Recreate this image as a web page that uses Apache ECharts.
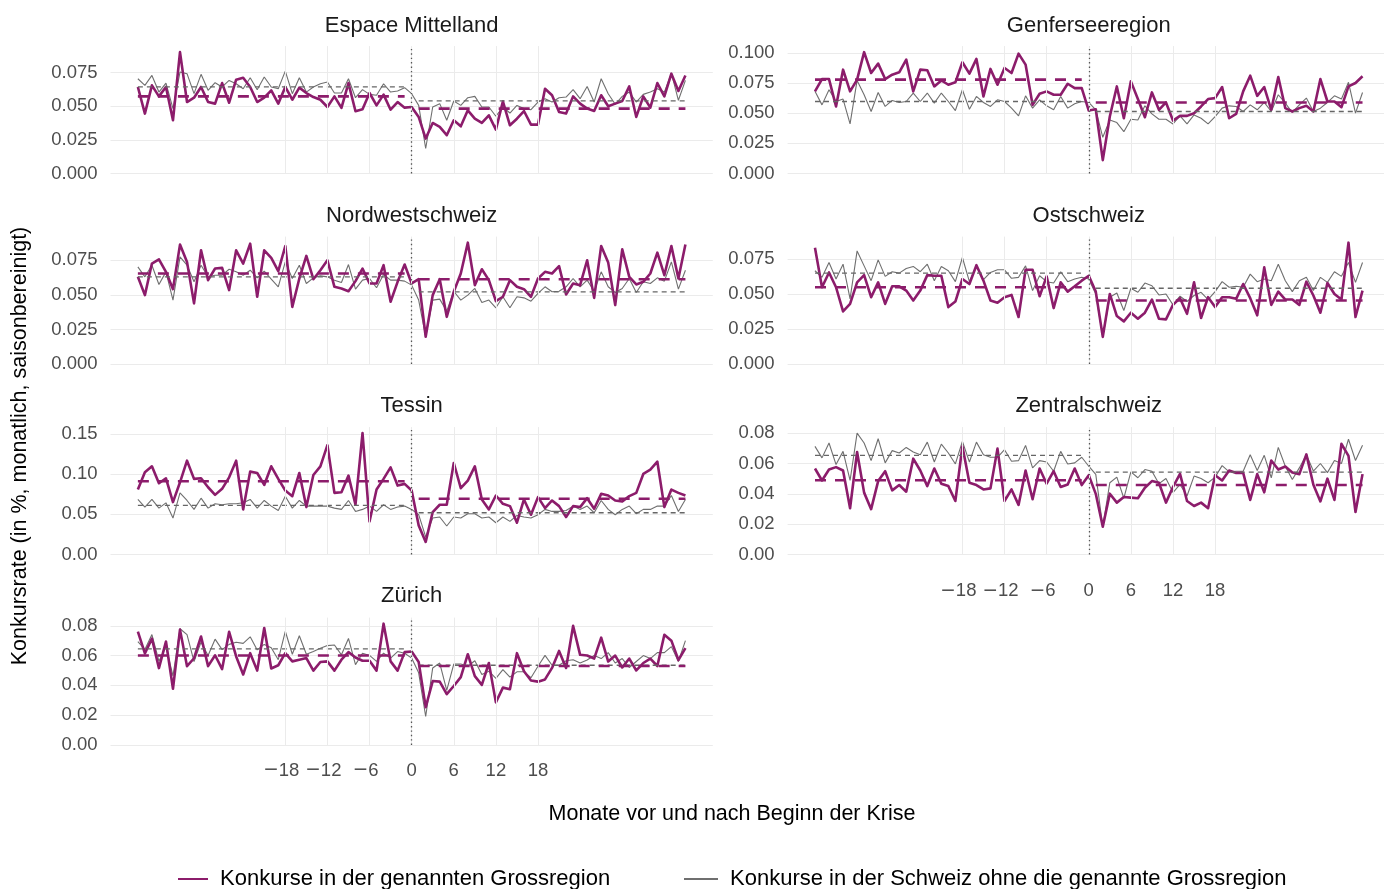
<!DOCTYPE html>
<html>
<head>
<meta charset="utf-8">
<title>Konkursrate nach Grossregion</title>
<script src="https://cdn.jsdelivr.net/npm/echarts@6/dist/echarts.min.js"></script>
<style>
  html, body { margin: 0; padding: 0; background: #ffffff; }
  #chart { width: 1384px; height: 889px; }
</style>
</head>
<body>
<div id="chart"></div>
<script>
// Months relative to the start of the crisis
const firstMonth = -39;
const lastMonth = 39;
const xTickValues = [-18, -12, -6, 0, 6, 12, 18];

const regionNames = ['Espace Mittelland', 'Genferseeregion', 'Nordwestschweiz', 'Ostschweiz', 'Tessin', 'Zentralschweiz', 'Zürich'];

// Monthly bankruptcy rate (%), seasonally adjusted: region itself
const rateEspaceMittelland = [0.0644,0.0446,0.0656,0.0574,0.0644,0.0396,0.0903,0.0532,0.0564,0.0644,0.0532,0.0520,0.0673,0.0527,0.0698,0.0713,0.0644,0.0532,0.0564,0.0619,0.0520,0.0644,0.0549,0.0639,0.0599,0.0569,0.0549,0.0495,0.0574,0.0488,0.0673,0.0463,0.0478,0.0599,0.0507,0.0587,0.0475,0.0532,0.0490,
  0.0495,0.0421,0.0260,0.0376,0.0347,0.0285,0.0396,0.0351,0.0470,0.0408,0.0376,0.0433,0.0327,0.0537,0.0359,0.0408,0.0465,0.0364,0.0364,0.0631,0.0582,0.0458,0.0446,0.0574,0.0520,0.0483,0.0465,0.0582,0.0500,0.0520,0.0540,0.0648,0.0421,0.0574,0.0490,0.0673,0.0574,0.0743,0.0614,0.0730];
const rateGenferseeregion = [0.0681,0.0783,0.0783,0.0556,0.0861,0.0681,0.0778,0.1006,0.0833,0.0911,0.0783,0.0819,0.0839,0.0944,0.0681,0.0861,0.0856,0.0722,0.0772,0.0736,0.0756,0.0922,0.0828,0.0950,0.0639,0.0867,0.0736,0.0875,0.0833,0.0994,0.0903,0.0569,0.0661,0.0681,
  0.0653,0.0653,0.0744,0.0708,0.0708,0.0522,0.0533,0.0111,0.0472,0.0722,0.0458,0.0764,0.0617,0.0467,0.0672,0.0528,0.0589,0.0439,0.0478,0.0478,0.0500,0.0556,0.0617,0.0625,0.0717,0.0458,0.0494,0.0681,0.0811,0.0644,0.0717,0.0528,0.0800,0.0542,0.0514,0.0542,0.0561,0.0514,0.0783,0.0597,0.0597,0.0550,0.0722,0.0750,0.0806];
const rateNordwestschweiz = [0.0630,0.0498,0.0726,0.0757,0.0666,0.0541,0.0863,0.0738,0.0438,0.0822,0.0606,0.0690,0.0695,0.0534,0.0822,0.0726,0.0870,0.0486,0.0822,0.0767,0.0671,0.0853,0.0413,0.0618,0.0781,0.0613,0.0678,0.0750,0.0558,0.0546,0.0526,0.0599,0.0690,0.0582,0.0582,0.0714,0.0450,0.0594,0.0719,
  0.0582,0.0613,0.0197,0.0498,0.0613,0.0341,0.0522,0.0654,0.0877,0.0570,0.0685,0.0606,0.0454,0.0486,0.0606,0.0558,0.0541,0.0486,0.0618,0.0666,0.0654,0.0707,0.0502,0.0582,0.0570,0.0750,0.0478,0.0853,0.0733,0.0426,0.0829,0.0630,0.0575,0.0594,0.0654,0.0805,0.0642,0.0853,0.0618,0.0863];
const rateOstschweiz = [0.0832,0.0549,0.0655,0.0549,0.0376,0.0430,0.0584,0.0636,0.0478,0.0584,0.0430,0.0556,0.0556,0.0525,0.0454,0.0525,0.0636,0.0631,0.0631,0.0407,0.0447,0.0608,0.0572,0.0707,0.0596,0.0454,0.0438,0.0478,0.0494,0.0336,0.0674,0.0674,0.0485,0.0627,0.0400,0.0584,0.0518,0.0556,0.0596,
  0.0631,0.0518,0.0194,0.0501,0.0343,0.0305,0.0367,0.0324,0.0367,0.0461,0.0324,0.0319,0.0423,0.0471,0.0359,0.0584,0.0329,0.0478,0.0407,0.0478,0.0478,0.0466,0.0572,0.0471,0.0348,0.0691,0.0423,0.0518,0.0461,0.0461,0.0423,0.0589,0.0490,0.0367,0.0579,0.0501,0.0461,0.0868,0.0336,0.0525];
const rateTessin = [0.0809,0.1024,0.1099,0.0888,0.0950,0.0653,0.0900,0.1169,0.0942,0.0950,0.0838,0.0743,0.0818,0.0962,0.1169,0.0562,0.1033,0.1016,0.0867,0.1099,0.0942,0.0797,0.0727,0.1016,0.0591,0.0991,0.1099,0.1363,0.0768,0.0776,0.0983,0.0620,0.1512,0.0413,0.0809,0.0942,0.1086,0.0859,0.0880,
  0.0797,0.0363,0.0157,0.0529,0.0620,0.0620,0.1140,0.0826,0.0921,0.1099,0.0686,0.0562,0.0735,0.0632,0.0603,0.0396,0.0686,0.0496,0.0715,0.0578,0.0673,0.0603,0.0467,0.0603,0.0591,0.0702,0.0570,0.0756,0.0735,0.0673,0.0661,0.0727,0.0768,0.1004,0.1057,0.1156,0.0591,0.0809,0.0768,0.0735];
const rateZentralschweiz = [0.0567,0.0488,0.0560,0.0576,0.0554,0.0305,0.0676,0.0408,0.0299,0.0484,0.0549,0.0423,0.0458,0.0414,0.0632,0.0554,0.0451,0.0567,0.0467,0.0451,0.0353,0.0713,0.0473,0.0458,0.0429,0.0436,0.0698,0.0353,0.0429,0.0327,0.0554,0.0364,0.0567,0.0467,0.0549,0.0445,0.0462,0.0567,0.0458,
  0.0523,0.0400,0.0183,0.0401,0.0342,0.0379,0.0375,0.0371,0.0440,0.0484,0.0473,0.0342,0.0445,0.0532,0.0353,0.0320,0.0342,0.0305,0.0523,0.0488,0.0554,0.0538,0.0538,0.0360,0.0530,0.0410,0.0620,0.0560,0.0580,0.0540,0.0530,0.0660,0.0460,0.0350,0.0500,0.0360,0.0730,0.0650,0.0280,0.0530];
const rateZuerich = [0.0760,0.0615,0.0714,0.0516,0.0694,0.0377,0.0774,0.0529,0.0582,0.0728,0.0529,0.0602,0.0509,
  0.0759,0.0594,0.0473,0.0616,0.0499,0.0785,0.0513,0.0535,0.0616,0.0561,0.0572,0.0583,0.0499,0.0557,0.0561,0.0499,0.0572,0.0623,0.0587,0.0565,0.0565,0.0499,0.0814,0.0561,0.0499,0.0623,
  0.0627,0.0557,0.0253,0.0429,0.0425,0.0341,0.0396,0.0455,0.0609,0.0462,0.0403,0.0550,0.0286,0.0385,0.0374,0.0616,0.0495,0.0433,0.0425,0.0440,0.0517,0.0631,0.0517,0.0799,0.0605,
  0.0600,0.0580,0.0720,0.0560,0.0600,0.0520,0.0580,0.0500,0.0550,0.0580,0.0530,0.0740,0.0700,0.0570,0.0650];

// Rest of Switzerland without the region
const restEspaceMittelland = [0.0705,0.0656,0.0730,0.0606,0.0673,0.0483,0.0755,0.0743,0.0594,0.0738,0.0619,0.0676,0.0644,0.0693,0.0668,0.0631,0.0713,0.0624,0.0718,0.0644,0.0631,0.0762,0.0594,0.0713,0.0606,0.0644,0.0668,0.0681,0.0599,0.0599,0.0705,0.0564,0.0624,0.0589,0.0582,0.0668,0.0606,0.0614,0.0639,
  0.0594,0.0507,0.0186,0.0495,0.0520,0.0396,0.0540,0.0507,0.0564,0.0574,0.0495,0.0495,0.0426,0.0495,0.0450,0.0507,0.0483,0.0475,0.0532,0.0557,0.0532,0.0564,0.0569,0.0624,0.0557,0.0648,0.0532,0.0705,0.0594,0.0515,0.0574,0.0606,0.0532,0.0589,0.0606,0.0631,0.0606,0.0747,0.0545,0.0693];
const restGenferseeregion = [0.0681,0.0569,0.0694,0.0597,0.0617,0.0411,0.0772,0.0653,0.0514,0.0672,0.0556,0.0606,0.0589,0.0597,0.0667,0.0597,0.0667,0.0583,0.0667,0.0597,0.0522,0.0694,0.0533,0.0639,0.0589,0.0556,0.0611,0.0597,0.0542,0.0478,0.0644,0.0542,0.0611,0.0561,
  0.0528,0.0639,0.0542,0.0578,0.0597,0.0589,0.0528,0.0300,0.0444,0.0422,0.0347,0.0450,0.0444,0.0561,0.0494,0.0450,0.0450,0.0411,0.0478,0.0411,0.0486,0.0458,0.0411,0.0472,0.0542,0.0561,0.0556,0.0514,0.0569,0.0528,0.0589,0.0514,0.0653,0.0583,0.0506,0.0569,0.0625,0.0514,0.0542,0.0589,0.0644,0.0617,0.0756,0.0500,0.0672];
const restNordwestschweiz = [0.0702,0.0630,0.0714,0.0575,0.0666,0.0462,0.0774,0.0714,0.0594,0.0714,0.0630,0.0642,0.0642,0.0685,0.0666,0.0642,0.0678,0.0623,0.0671,0.0613,0.0558,0.0738,0.0618,0.0714,0.0582,0.0623,0.0637,0.0630,0.0606,0.0589,0.0719,0.0541,0.0606,0.0618,0.0551,0.0647,0.0606,0.0606,0.0599,
  0.0570,0.0462,0.0197,0.0462,0.0469,0.0382,0.0526,0.0462,0.0498,0.0546,0.0445,0.0462,0.0406,0.0486,0.0406,0.0486,0.0478,0.0454,0.0510,0.0558,0.0522,0.0526,0.0558,0.0618,0.0558,0.0606,0.0526,0.0666,0.0558,0.0517,0.0546,0.0618,0.0517,0.0594,0.0582,0.0623,0.0599,0.0738,0.0541,0.0678];
const restOstschweiz = [0.0667,0.0620,0.0726,0.0608,0.0714,0.0466,0.0809,0.0702,0.0596,0.0745,0.0627,0.0660,0.0650,0.0683,0.0698,0.0660,0.0714,0.0596,0.0698,0.0667,0.0589,0.0762,0.0589,0.0702,0.0603,0.0655,0.0674,0.0674,0.0613,0.0620,0.0702,0.0525,0.0631,0.0589,0.0579,0.0660,0.0589,0.0608,0.0620,
  0.0608,0.0501,0.0194,0.0478,0.0508,0.0383,0.0542,0.0513,0.0579,0.0560,0.0494,0.0501,0.0423,0.0485,0.0447,0.0490,0.0513,0.0461,0.0518,0.0589,0.0549,0.0556,0.0549,0.0643,0.0589,0.0608,0.0596,0.0714,0.0596,0.0518,0.0596,0.0620,0.0525,0.0620,0.0584,0.0660,0.0627,0.0726,0.0584,0.0726];
const restTessin = [0.0686,0.0591,0.0686,0.0578,0.0644,0.0454,0.0768,0.0673,0.0562,0.0702,0.0578,0.0632,0.0620,0.0632,0.0632,0.0644,0.0686,0.0578,0.0673,0.0603,0.0549,0.0727,0.0578,0.0673,0.0603,0.0603,0.0603,0.0603,0.0578,0.0562,0.0673,0.0537,0.0562,0.0603,0.0537,0.0620,0.0562,0.0591,0.0603,
  0.0562,0.0496,0.0220,0.0454,0.0467,0.0355,0.0467,0.0454,0.0508,0.0508,0.0454,0.0467,0.0396,0.0467,0.0413,0.0487,0.0467,0.0454,0.0496,0.0562,0.0537,0.0537,0.0549,0.0603,0.0562,0.0603,0.0520,0.0673,0.0562,0.0496,0.0562,0.0603,0.0508,0.0562,0.0562,0.0603,0.0603,0.0735,0.0537,0.0686];
const restZentralschweiz = [0.0713,0.0637,0.0735,0.0593,0.0680,0.0488,0.0800,0.0735,0.0619,0.0763,0.0604,0.0685,0.0669,0.0706,0.0676,0.0658,0.0741,0.0610,0.0728,0.0669,0.0597,0.0746,0.0610,0.0741,0.0658,0.0641,0.0641,0.0691,0.0615,0.0619,0.0719,0.0571,0.0619,0.0610,0.0549,0.0680,0.0597,0.0604,0.0641,
  0.0582,0.0528,0.0183,0.0473,0.0510,0.0371,0.0545,0.0506,0.0560,0.0549,0.0467,0.0501,0.0408,0.0462,0.0386,0.0517,0.0501,0.0473,0.0510,0.0586,0.0545,0.0549,0.0549,0.0658,0.0554,0.0654,0.0506,0.0706,0.0582,0.0495,0.0571,0.0658,0.0550,0.0600,0.0540,0.0620,0.0600,0.0760,0.0620,0.0720];
const restZuerich = [0.0694,0.0641,0.0741,0.0562,0.0660,0.0463,0.0780,0.0740,0.0560,0.0690,0.0600,0.0710,0.0640,
  0.0675,0.0689,0.0682,0.0726,0.0638,0.0675,0.0653,0.0572,0.0763,0.0609,0.0733,0.0609,0.0627,0.0649,0.0667,0.0671,0.0605,0.0715,0.0539,0.0616,0.0601,0.0561,0.0616,0.0583,0.0627,0.0616,
  0.0583,0.0484,0.0191,0.0517,0.0550,0.0367,0.0543,0.0543,0.0528,0.0565,0.0473,0.0495,0.0447,0.0506,0.0455,0.0491,0.0491,0.0451,0.0528,0.0601,0.0535,0.0535,0.0565,0.0572,0.0550,
  0.0570,0.0600,0.0580,0.0620,0.0550,0.0580,0.0520,0.0560,0.0600,0.0580,0.0620,0.0620,0.0660,0.0560,0.0700];

// Average rate before and after the start of the crisis (same order as regionNames)
const meanRegionBefore = [0.0574, 0.0778, 0.0654, 0.0549, 0.0913, 0.0490, 0.0600];
const meanRegionAfter  = [0.0483, 0.0589, 0.0613, 0.0454, 0.0694, 0.0458, 0.0530];
const meanRestBefore   = [0.0644, 0.0597, 0.0630, 0.0650, 0.0611, 0.0654, 0.0645];
const meanRestAfter    = [0.0540, 0.0514, 0.0522, 0.0542, 0.0520, 0.0543, 0.0535];

// Y tick step and label decimals per panel
const yTickStep = [0.025, 0.025, 0.025, 0.025, 0.05, 0.02, 0.02];
const yTickDecimals = [3, 3, 3, 3, 2, 2, 2];

const regionSeries = [rateEspaceMittelland, rateGenferseeregion, rateNordwestschweiz, rateOstschweiz, rateTessin, rateZentralschweiz, rateZuerich];
const restSeries = [restEspaceMittelland, restGenferseeregion, restNordwestschweiz, restOstschweiz, restTessin, restZentralschweiz, restZuerich];

const nameRegion = 'Konkurse in der genannten Grossregion';
const nameRest = 'Konkurse in der Schweiz ohne die genannte Grossregion';

// ---- layout of the 2-column facet grid ----
const purple = '#8c1c6b';
const greyLine = '#6f6f6f';
const gridColor = '#ebebeb';
const tickColor = '#4d4d4d';
const fontFamily = '"Liberation Sans", Arial, Helvetica, sans-serif';
const colLeft = [110.5, 787.6];
const panelWidth = 602.3;
const rowZeroY = [173.5, 364, 554.5, 745];
const panelHeight = 127.4;
const stripY = [26, 216, 406, 596];
const bottomPanel = { 5: 27, 6: 16 }; // panel index -> x label margin

const months = [];
for (let m = firstMonth; m <= lastMonth; m++) months.push(m);
const xPad = 0.05 * (lastMonth - firstMonth);

const grids = [], xAxes = [], yAxes = [], series = [], graphics = [];

regionNames.forEach((name, i) => {
  const col = i % 2, row = Math.floor(i / 2);
  const region = regionSeries[i], rest = restSeries[i];
  const yMax = 1.05 * Math.max(...region, ...rest);
  const top = rowZeroY[row] - panelHeight;
  grids.push({ left: colLeft[col], top: top, width: panelWidth, height: panelHeight,
    containLabel: false, outerBoundsMode: 'none' });

  const showX = bottomPanel[i] !== undefined;
  xAxes.push({
    type: 'value', gridIndex: i, min: firstMonth - xPad, max: lastMonth + xPad,
    axisLine: { show: false }, axisTick: { show: false }, splitLine: { show: false },
    axisLabel: {
      show: showX, customValues: xTickValues, margin: showX ? bottomPanel[i] : 8,
      fontSize: 18.5, color: tickColor, fontFamily: fontFamily,
      formatter: v => (v < 0 ? '{m|\u2212}{n|' + Math.abs(v) + '}' : String(v)),
      rich: {
        m: { fontFamily: '"DejaVu Sans", sans-serif', fontSize: 18.5, color: tickColor },
        n: { fontFamily: fontFamily, fontSize: 18.5, color: tickColor, padding: [0, 8, 0, 0] }
      }
    }
  });
  const dec = yTickDecimals[i];
  yAxes.push({
    type: 'value', gridIndex: i, min: 0, max: yMax, interval: yTickStep[i],
    axisLine: { show: false }, axisTick: { show: false },
    axisLabel: { margin: 13, fontSize: 18.5, color: tickColor, fontFamily: fontFamily, showMaxLabel: false,
      formatter: v => v.toFixed(dec) },
    splitLine: { show: true, showMaxLine: false, lineStyle: { color: gridColor, width: 1 } }
  });

  // vertical grid lines at the labelled months
  series.push({
    type: 'line', name: 'grid' + i, xAxisIndex: i, yAxisIndex: i, data: [], silent: true, z: 1,
    markLine: { silent: true, symbol: ['none', 'none'], label: { show: false }, animation: false,
      lineStyle: { color: gridColor, width: 1, type: 'solid' },
      emphasis: { disabled: true },
      data: xTickValues.map(v => ({ xAxis: v })) }
  });
  series.push({
    type: 'line', name: nameRest, xAxisIndex: i, yAxisIndex: i, z: 2,
    data: months.map((m, k) => [m, rest[k]]),
    symbol: 'none', lineStyle: { color: greyLine, width: 1.1 }, itemStyle: { color: greyLine },
    emphasis: { disabled: true }, animation: false
  });
  series.push({
    type: 'line', name: nameRegion, xAxisIndex: i, yAxisIndex: i, z: 3,
    data: months.map((m, k) => [m, region[k]]),
    symbol: 'none', lineStyle: { color: purple, width: 2.6, join: 'round' }, itemStyle: { color: purple },
    emphasis: { disabled: true }, animation: false
  });
  // mean levels before and after month 0
  const segs = [
    [meanRestBefore[i], firstMonth, -1, false], [meanRestAfter[i], 1, lastMonth, false],
    [meanRegionBefore[i], firstMonth, -1, true], [meanRegionAfter[i], 1, lastMonth, true]
  ];
  segs.forEach(([val, a, b, isRegion]) => {
    series.push({
      type: 'line', name: (isRegion ? 'Mittel Grossregion ' : 'Mittel Schweiz ') + i, xAxisIndex: i, yAxisIndex: i,
      z: isRegion ? 5 : 4, data: [[a, val], [b, val]], symbol: 'none', silent: true, animation: false,
      lineStyle: isRegion ? { color: purple, width: 2.6, type: [11, 9] } : { color: '#666666', width: 1.3, type: [5, 4] },
      emphasis: { disabled: true }
    });
  });
  // dotted line at the start of the crisis
  series.push({
    type: 'line', name: 'start' + i, xAxisIndex: i, yAxisIndex: i, data: [], silent: true, z: 6,
    markLine: { silent: true, symbol: ['none', 'none'], label: { show: false }, animation: false,
      lineStyle: { color: '#555555', width: 1.3, type: [1.4, 3] },
      emphasis: { disabled: true },
      data: [{ xAxis: 0 }] }
  });

  // facet strip title
  graphics.push({
    type: 'text', silent: true, x: colLeft[col] + panelWidth / 2, y: stripY[row],
    style: { text: name, fill: '#1a1a1a', font: '22px ' + fontFamily, textAlign: 'center', textVerticalAlign: 'middle' }
  });
});

// axis titles
graphics.push({
  type: 'text', silent: true, x: 732, y: 814,
  style: { text: 'Monate vor und nach Beginn der Krise', fill: '#000000', font: '21.5px ' + fontFamily, textAlign: 'center', textVerticalAlign: 'middle' }
});
graphics.push({
  type: 'text', silent: true, x: 20, y: 446, rotation: Math.PI / 2,
  style: { text: 'Konkursrate (in %, monatlich, saisonbereinigt)', fill: '#000000', font: '21.5px ' + fontFamily, textAlign: 'center', textVerticalAlign: 'middle' }
});

const legendText = { fontSize: 22, color: '#000000', fontFamily: fontFamily, padding: [0, 0, 0, 7] };
const legendCommon = { top: 868, padding: 0, itemHeight: 14, selectedMode: false, textStyle: legendText,
  itemStyle: { opacity: 0 } };

const option = {
  backgroundColor: '#ffffff',
  animation: false,
  grid: grids,
  xAxis: xAxes,
  yAxis: yAxes,
  series: series,
  legend: [
    Object.assign({ left: 177, itemWidth: 30, data: [nameRegion] }, legendCommon),
    Object.assign({ left: 683, itemWidth: 34, data: [nameRest] }, legendCommon)
  ],
  graphic: graphics
};

const chart = echarts.init(document.getElementById('chart'), null, { renderer: 'canvas', devicePixelRatio: 1 });
chart.setOption(option);
</script>
</body>
</html>
